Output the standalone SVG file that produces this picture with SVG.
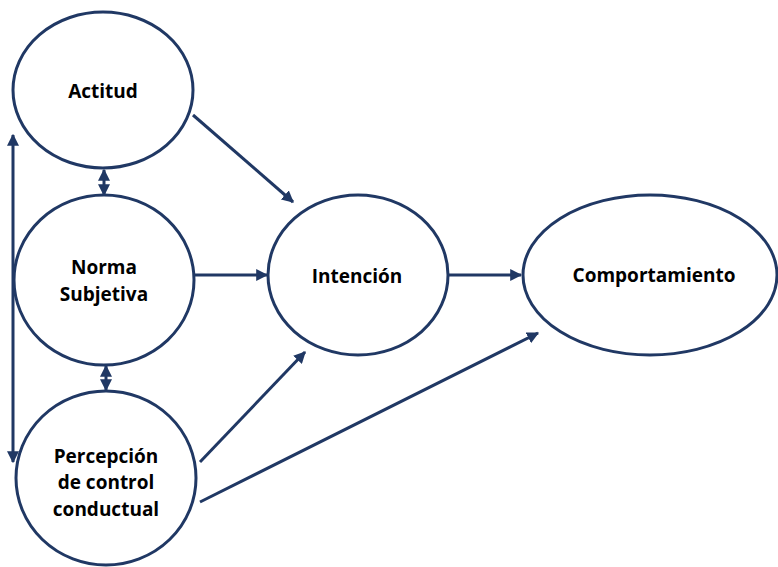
<svg xmlns="http://www.w3.org/2000/svg" width="778" height="567" viewBox="0 0 778 567">
<style>
.n{fill:#fff;stroke:#203864;stroke-width:3}
.t{font-family:"Open Sans","Liberation Sans",sans-serif;font-weight:bold;font-size:19px;fill:#000;text-anchor:middle}
.c{stroke:#203864;stroke-width:3;fill:none;marker-end:url(#ah)}
.d{marker-start:url(#ahs)}
</style>
<defs>
<marker id="ah" viewBox="0 0 10 10" refX="9" refY="5" markerWidth="4" markerHeight="4" orient="auto" markerUnits="strokeWidth">
<path d="M0,0 L10,5 L0,10 z" fill="#203864"/>
</marker>
<marker id="ahs" viewBox="0 0 10 10" refX="1" refY="5" markerWidth="4" markerHeight="4" orient="auto" markerUnits="strokeWidth">
<path d="M10,0 L0,5 L10,10 z" fill="#203864"/>
</marker>
</defs>
<rect width="778" height="567" fill="#fff"/>
<g id="connectors">
<line class="c" x1="193" y1="115" x2="293" y2="202"/>
<line class="c" x1="195" y1="275" x2="267" y2="275"/>
<line class="c" x1="449" y1="275" x2="521" y2="275"/>
<line class="c" x1="200" y1="462" x2="305" y2="352"/>
<line class="c" x1="200" y1="502" x2="538" y2="333"/>
<line class="c d" x1="104" y1="170" x2="104" y2="195"/>
<line class="c d" x1="106" y1="366" x2="106" y2="390"/>
<line class="c d" x1="13" y1="135" x2="13" y2="462"/>
</g>
<g id="actitud">
<ellipse class="n" cx="103" cy="90" rx="90" ry="78"/>
<text class="t" x="103" y="98">Actitud</text>
</g>
<g id="norma">
<ellipse class="n" cx="104" cy="280" rx="90" ry="85"/>
<text class="t" x="104" y="274">Norma</text>
<text class="t" x="104" y="301">Subjetiva</text>
</g>
<g id="percepcion">
<ellipse class="n" cx="106" cy="478" rx="90" ry="87"/>
<text class="t" x="106" y="463">Percepción</text>
<text class="t" x="106" y="489">de control</text>
<text class="t" x="106" y="516">conductual</text>
</g>
<g id="intencion">
<ellipse class="n" cx="358" cy="275" rx="90" ry="80"/>
<text class="t" x="357" y="283">Intención</text>
</g>
<g id="comportamiento">
<ellipse class="n" cx="650" cy="275" rx="127" ry="80"/>
<text class="t" x="654" y="282">Comportamiento</text>
</g>
</svg>
